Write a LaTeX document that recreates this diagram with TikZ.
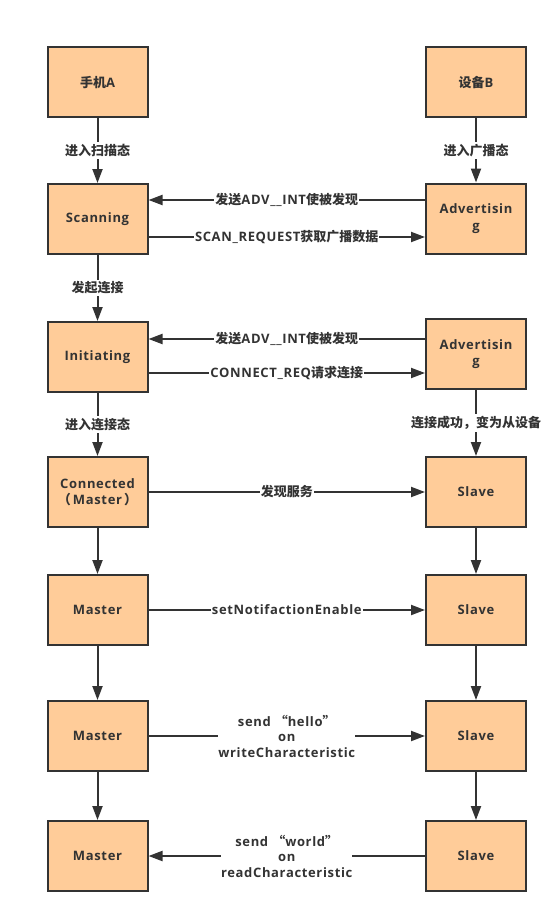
\documentclass[tikz,border=0pt]{standalone}
\usepackage{fontspec}
\setmainfont{Open Sans}[LetterSpace=5]
\newfontfamily\cjkfam{Noto Sans CJK SC}
\newcommand{\zh}[1]{{\cjkfam\bfseries #1}}
\usetikzlibrary{arrows.meta}
\definecolor{boxfill}{HTML}{FFCC99}
\definecolor{ink}{HTML}{333333}
\tikzset{
  x=1pt, y=1pt,
  box/.style={draw=ink, line width=2pt, fill=boxfill, minimum width=100pt, minimum height=70pt,
    inner sep=0pt, align=center, text=ink, font=\fontsize{13}{16.5}\selectfont\bfseries},
  arr/.style={draw=ink, line width=2pt, -{Triangle[length=14pt,width=10pt]}},
  lab/.style={fill=white, inner xsep=1pt, inner ysep=2pt, text=ink, align=center,
    font=\fontsize{13}{15.5}\selectfont\bfseries},
}
\begin{document}
\begin{tikzpicture}
\useasboundingbox (0,0) rectangle (558,-923);
% left column
\node[box] (A) at (97.5,-82.5) {\zh{手机}A};
\node[box] (scan) at (97.5,-219) {Scanning};
\node[box] (init) at (97.5,-357) {Initiating};
\node[box] (conn) at (97.5,-492) {Connected\\\zh{（}\,Master\,\zh{）}};
\node[box] (m1) at (97.5,-610) {Master};
\node[box] (m2) at (97.5,-736) {Master};
\node[box] (m3) at (97.5,-856) {Master};
% right column
\node[box] (B) at (476,-82.5) {\zh{设备}B};
\node[box] (adv1) at (476,-218.5) {Advertisin\\g};
\node[box] (adv2) at (476,-354) {Advertisin\\g};
\node[box] (s1) at (476,-492) {Slave};
\node[box] (s2) at (476,-610) {Slave};
\node[box] (s3) at (476,-736) {Slave};
\node[box] (s4) at (476,-856) {Slave};
% vertical connectors
\draw[arr] (A) -- node[lab] {\zh{进入扫描态}} (scan);
\draw[arr] (scan) -- node[lab] {\zh{发起连接}} (init);
\draw[arr] (init) -- node[lab] {\zh{进入连接态}} (conn);
\draw[arr] (conn) -- (m1);
\draw[arr] (m1) -- (m2);
\draw[arr] (m2) -- (m3);
\draw[arr] (B) -- node[lab] {\zh{进入广播态}} (adv1);
\draw[arr] (adv2) -- node[lab] {\zh{连接成功，变为从设备}} (s1);
\draw[arr] (s1) -- (s2);
\draw[arr] (s2) -- (s3);
\draw[arr] (s3) -- (s4);
% horizontal connectors
\draw[arr] ([yshift=18.5pt]adv1.west) -- node[lab] {\zh{发送}ADV\_\_INT\zh{使被发现}} ([yshift=19pt]scan.east);
\draw[arr] ([yshift=-18pt]scan.east) -- node[lab] {SCAN\_REQUEST\zh{获取广播数据}} ([yshift=-18.5pt]adv1.west);
\draw[arr] ([yshift=15pt]adv2.west) -- node[lab] {\zh{发送}ADV\_\_INT\zh{使被发现}} ([yshift=18pt]init.east);
\draw[arr] ([yshift=-16pt]init.east) -- node[lab] {CONNECT\_REQ\zh{请求连接}} ([yshift=-19pt]adv2.west);
\draw[arr] (conn) -- node[lab] {\zh{发现服务}} (s1);
\draw[arr] (m1) -- node[lab] {setNotifactionEnable} (s2);
\draw[arr] (m2) -- node[lab, inner xsep=0pt] {send \zh{“}hello\zh{”}\\on\\writeCharacteristic} (s3);
\draw[arr] (s4) -- node[lab, inner xsep=0pt] {send \zh{“}world\zh{”}\\on\\readCharacteristic} (m3);
\end{tikzpicture}
\end{document}
